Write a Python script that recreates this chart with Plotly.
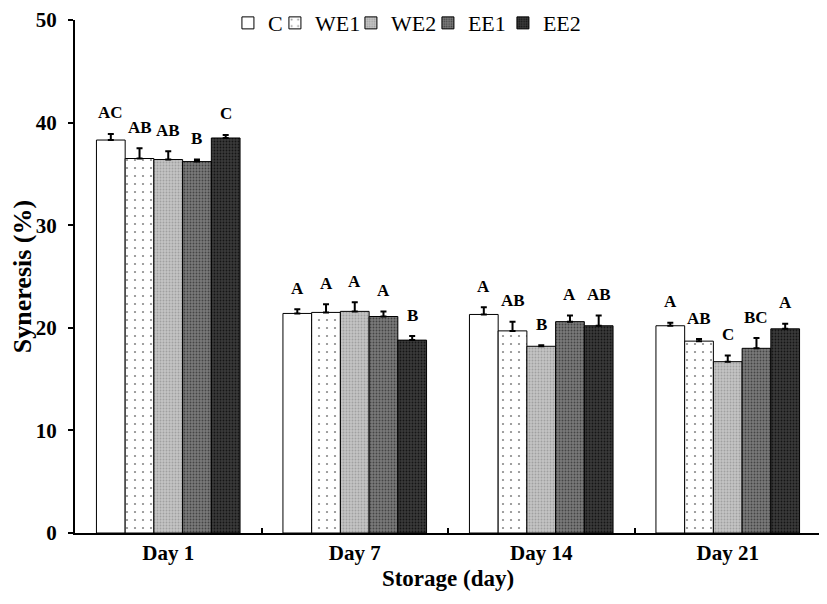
import plotly.graph_objects as go

DAYS = ["Day 1", "Day 7", "Day 14", "Day 21"]
SERIES = ["C", "WE1", "WE2", "EE1", "EE2"]

C_MEAN = [38.3, 21.4, 21.3, 20.2]
WE1_MEAN = [36.5, 21.5, 19.7, 18.7]
WE2_MEAN = [36.4, 21.6, 18.2, 16.7]
EE1_MEAN = [36.2, 21.1, 20.6, 18.0]
EE2_MEAN = [38.5, 18.8, 20.2, 19.9]

C_ERR = [0.6, 0.4, 0.7, 0.3]
WE1_ERR = [1.0, 0.8, 0.9, 0.2]
WE2_ERR = [0.8, 0.9, 0.1, 0.6]
EE1_ERR = [0.2, 0.5, 0.6, 1.0]
EE2_ERR = [0.3, 0.4, 1.0, 0.5]

C_LET = ["AC", "A", "A", "A"]
WE1_LET = ["AB", "A", "AB", "AB"]
WE2_LET = ["AB", "A", "B", "C"]
EE1_LET = ["B", "A", "A", "BC"]
EE2_LET = ["C", "B", "AB", "A"]

means = [C_MEAN, WE1_MEAN, WE2_MEAN, EE1_MEAN, EE2_MEAN]
errs = [C_ERR, WE1_ERR, WE2_ERR, EE1_ERR, EE2_ERR]
letters = [C_LET, WE1_LET, WE2_LET, EE1_LET, EE2_LET]

# fill style per series: (background, dot colour, dot size, solidity, legend entry width)
styles = [
    ("white", "white", 6, 0.01, 2),
    ("white", "#8a8a8a", 8, 0.06, 31),
    ("#c4c4c4", "#a0a0a0", 3, 0.3, 32),
    ("#7a7a7a", "#444444", 3, 0.3, 30),
    ("#3a3a3a", "#151515", 3, 0.3, None),
]

FONT = "Liberation Serif"
BARGAP = 0.23

fig = go.Figure()
for name, m, e, (bg, fg, sz, sol, lw) in zip(SERIES, means, errs, styles):
    pattern = dict(shape="." if name != "C" else "", bgcolor=bg, fgcolor=fg,
                   size=sz, solidity=sol, fillmode="replace")
    fig.add_trace(go.Bar(
        x=DAYS, y=m, name=name, legendwidth=lw,
        marker=dict(color=bg, pattern=pattern, line=dict(color="black", width=1)),
        error_y=dict(type="data", symmetric=False, array=e, arrayminus=[0] * len(e),
                     color="black", thickness=2, width=3),
    ))

# significance letters above each error bar
n = len(SERIES)
w = (1 - BARGAP) / n
for j, (m, e, lets) in enumerate(zip(means, errs, letters)):
    for i in range(len(DAYS)):
        fig.add_annotation(
            x=i + (j - (n - 1) / 2) * w, y=m[i] + e[i], xref="x", yref="y",
            text=f"<b>{lets[i]}</b>", showarrow=False, yanchor="middle", yshift=21,
            font=dict(family=FONT, size=17, color="black"),
        )

# the page body adds an 8px offset, so margins are shifted to compensate
fig.update_layout(
    width=827, height=604,
    margin=dict(l=67, r=14, t=12, b=79, autoexpand=False),
    paper_bgcolor="white", plot_bgcolor="white",
    barmode="group", bargap=BARGAP, bargroupgap=0,
    font=dict(family=FONT, color="black"),
    legend=dict(orientation="h", x=0.205, y=0.994, xanchor="left", yanchor="middle",
                font=dict(family=FONT, size=22), bgcolor="rgba(0,0,0,0)",
                itemwidth=30, traceorder="normal"),
    showlegend=True,
)
fig.update_xaxes(
    showline=True, linecolor="black", linewidth=2,
    ticks="inside", tickson="boundaries", ticklen=5, tickwidth=2, tickcolor="black",
    tickfont=dict(family=FONT, size=21, color="black", weight="bold"),
    title=dict(text="<b>Storage (day)</b>", font=dict(family=FONT, size=23), standoff=6),
    showgrid=False, automargin=False,
)
fig.update_yaxes(
    range=[0, 50], dtick=10, showline=True, linecolor="black", linewidth=2,
    ticks="outside", ticklen=5, tickwidth=2, tickcolor="black",
    tickfont=dict(family=FONT, size=21, color="black", weight="bold"),
    ticklabelstandoff=7, ticklabeloverflow="allow",
    title=dict(text="<b>Syneresis (%)</b>", font=dict(family=FONT, size=26), standoff=14),
    showgrid=False, zeroline=False, automargin=False,
)

fig.write_html("out.html")
